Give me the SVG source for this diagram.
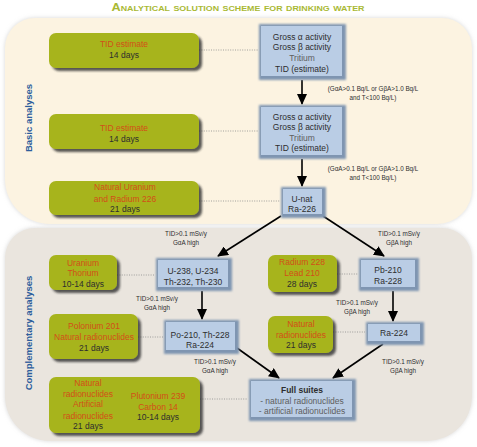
<svg xmlns="http://www.w3.org/2000/svg" width="477" height="447" viewBox="0 0 477 447">
<style>
text{font-family:"Liberation Sans",Arial,sans-serif;text-anchor:middle}
.t{font-size:8.5px;fill:#2e2e2e}
.o{font-size:8.5px;fill:#d24f18}
.lt{font-size:8.5px;fill:#5e5e5e}
.s{font-size:6.3px;fill:#2e2e2e}
.side{font-size:9.5px;font-weight:bold;fill:#2d5e9c}
.g{fill:#a7b41e}
.dot{stroke:#8a8a8a;stroke-width:0.8;stroke-dasharray:1 1.4;fill:none}
.arr{stroke:#000;stroke-width:1.6;fill:none;marker-end:url(#ah)}
</style>
<defs>
<marker id="ah" markerUnits="userSpaceOnUse" markerWidth="11" markerHeight="10" refX="10" refY="5" orient="auto"><path d="M0,0 L11,5 L0,10 z" fill="#000"/></marker>
<filter id="gs" x="-10%" y="-20%" width="130%" height="150%"><feDropShadow dx="3" dy="3" stdDeviation="1.3" flood-color="#333" flood-opacity="0.8"/></filter>
<filter id="bb" x="-15%" y="-20%" width="135%" height="150%"><feGaussianBlur stdDeviation="1.1" result="b"/><feOffset in="b" dx="1" dy="1"/></filter>
<filter id="ps" x="-5%" y="-5%" width="110%" height="110%"><feDropShadow dx="0" dy="0" stdDeviation="2" flood-color="#bbb" flood-opacity="0.6"/></filter>
</defs>
<rect width="477" height="447" fill="#fff"/>
<text x="238" y="10.5" textLength="253" lengthAdjust="spacingAndGlyphs" style="font-size:11.5px;font-weight:bold;font-variant:small-caps;fill:#a9b934">Analytical solution scheme for drinking water</text>
<path id="panel-basic" d="M35,18 H442 A30,30 0 0 1 472,48 V189 A35,35 0 0 1 437,224 H50 A45,45 0 0 1 5,179 V48 A30,30 0 0 1 35,18 Z" fill="#fcf3e1" filter="url(#ps)"/>
<path id="panel-comp" d="M35,228 H442 A30,30 0 0 1 472,258 V396 A45,45 0 0 1 427,441 H50 A45,45 0 0 1 5,396 V258 A30,30 0 0 1 35,228 Z" fill="#eae5de" filter="url(#ps)"/>
<text class="side" transform="translate(32,118) rotate(-90)">Basic analyses</text>
<text class="side" transform="translate(32,333) rotate(-90)">Complementary analyses</text>
<g id="connectors">
<line class="dot" x1="199" y1="50" x2="258" y2="50"/>
<line class="dot" x1="199" y1="131" x2="258" y2="131"/>
<line class="dot" x1="199" y1="201" x2="280" y2="201"/>
<line class="dot" x1="117" y1="275" x2="155" y2="275"/>
<line class="dot" x1="337" y1="274" x2="358" y2="274"/>
<line class="dot" x1="138" y1="337" x2="163" y2="337"/>
<line class="dot" x1="333" y1="332" x2="365" y2="332"/>
<line class="dot" x1="200" y1="399" x2="248" y2="399"/>
<line class="arr" x1="302" y1="80" x2="302" y2="104"/>
<line class="arr" x1="302" y1="159" x2="302" y2="186"/>
<line class="arr" x1="281" y1="216" x2="218" y2="256"/>
<line class="arr" x1="323" y1="216" x2="384" y2="256"/>
<line class="arr" x1="202" y1="291" x2="202" y2="319"/>
<line class="arr" x1="393" y1="291" x2="393" y2="321"/>
<line class="arr" x1="237" y1="348" x2="279" y2="378"/>
<line class="arr" x1="383" y1="344" x2="333" y2="378"/>
<text class="s" x="373" y="91">(GαA&gt;0.1 Bq/L or GβA&gt;1.0 Bq/L</text>
<text class="s" x="373" y="100">and T&lt;100 Bq/L)</text>
<text class="s" x="373" y="171">(GαA&gt;0.1 Bq/L or GβA&gt;1.0 Bq/L</text>
<text class="s" x="373" y="180">and T&lt;100 Bq/L)</text>
<text class="s" x="186" y="236">TID&gt;0.1 mSv/y</text><text class="s" x="186" y="245">GαA high</text>
<text class="s" x="399" y="236">TID&gt;0.1 mSv/y</text><text class="s" x="399" y="245">GβA high</text>
<text class="s" x="157" y="301">TID&gt;0.1 mSv/y</text><text class="s" x="157" y="310">GαA high</text>
<text class="s" x="357" y="305">TID&gt;0.1 mSv/y</text><text class="s" x="357" y="314">GβA high</text>
<text class="s" x="215" y="364">TID&gt;0.1 mSv/y</text><text class="s" x="215" y="373">GαA high</text>
<text class="s" x="403" y="364">TID&gt;0.1 mSv/y</text><text class="s" x="403" y="373">GβA high</text>
</g>
<g id="g1"><rect class="g" x="49" y="33" width="150" height="35" rx="7" filter="url(#gs)"/><text class="o" x="124" y="47">TID estimate</text><text class="t" x="124" y="58">14 days</text></g>
<g id="g2"><rect class="g" x="49" y="114" width="150" height="35" rx="7" filter="url(#gs)"/><text class="o" x="124" y="131">TID estimate</text><text class="t" x="124" y="142">14 days</text></g>
<g id="g3"><rect class="g" x="49" y="181" width="150" height="34" rx="7" filter="url(#gs)"/><text class="o" x="125" y="190">Natural Uranium</text><text class="o" x="125" y="202">and Radium 226</text><text class="t" x="125" y="212">21 days</text></g>
<g id="g4"><rect class="g" x="49" y="255" width="68" height="35" rx="7" filter="url(#gs)"/><text class="o" x="83" y="266">Uranium</text><text class="o" x="83" y="276">Thorium</text><text class="t" x="83" y="287">10-14 days</text></g>
<g id="g5"><rect class="g" x="268" y="255" width="69" height="37" rx="7" filter="url(#gs)"/><text class="o" x="302" y="265">Radium 228</text><text class="o" x="302" y="276">Lead 210</text><text class="t" x="302" y="287">28 days</text></g>
<g id="g6"><rect class="g" x="49" y="314" width="89" height="45" rx="7" filter="url(#gs)"/><text class="o" x="94" y="329">Polonium 201</text><text class="o" x="94" y="340">Natural radionuclides</text><text class="t" x="94" y="351">21 days</text></g>
<g id="g7"><rect class="g" x="268" y="316" width="65" height="37" rx="7" filter="url(#gs)"/><text class="o" x="301" y="327">Natural</text><text class="o" x="301" y="338">radionuclides</text><text class="t" x="301" y="348">21 days</text></g>
<g id="g8"><rect class="g" x="49" y="377" width="151" height="56" rx="7" filter="url(#gs)"/><text class="o" x="88" y="386">Natural</text><text class="o" x="88" y="397">radionuclides</text><text class="o" x="88" y="407">Artificial</text><text class="o" x="88" y="419">radionuclides</text><text class="t" x="88" y="429">21 days</text><text class="o" x="158" y="399">Plutonium 239</text><text class="o" x="158" y="410">Carbon 14</text><text class="t" x="158" y="420">10-14 days</text></g>
<g id="b1"><rect x="258" y="23" width="87" height="56" fill="#7f95b1" filter="url(#bb)"/><rect x="261" y="26" width="81" height="50" fill="#bacde5"/><text class="t" x="302" y="40">Gross α activity</text><text class="t" x="302" y="50">Gross β activity</text><text class="lt" x="302" y="61">Tritium</text><text class="t" x="302" y="72">TID (estimate)</text></g>
<g id="b2"><rect x="258" y="104" width="87" height="54" fill="#7f95b1" filter="url(#bb)"/><rect x="261" y="107" width="81" height="48" fill="#bacde5"/><text class="t" x="302" y="120">Gross α activity</text><text class="t" x="302" y="130">Gross β activity</text><text class="lt" x="302" y="141">Tritium</text><text class="t" x="302" y="151">TID (estimate)</text></g>
<g id="b3"><rect x="280" y="186" width="45" height="31" fill="#7f95b1" filter="url(#bb)"/><rect x="283" y="189" width="39" height="25" fill="#bacde5"/><text class="t" x="302" y="202">U-nat</text><text class="t" x="302" y="212">Ra-226</text></g>
<g id="b4"><rect x="155" y="257" width="76" height="33" fill="#7f95b1" filter="url(#bb)"/><rect x="158" y="260" width="70" height="27" fill="#bacde5"/><text class="t" x="193" y="274">U-238, U-234</text><text class="t" x="193" y="285">Th-232, Th-230</text></g>
<g id="b5"><rect x="358" y="257" width="60" height="33" fill="#7f95b1" filter="url(#bb)"/><rect x="361" y="260" width="54" height="27" fill="#bacde5"/><text class="t" x="388" y="273">Pb-210</text><text class="t" x="388" y="284">Ra-228</text></g>
<g id="b6"><rect x="163" y="319" width="75" height="34" fill="#7f95b1" filter="url(#bb)"/><rect x="166" y="322" width="69" height="28" fill="#bacde5"/><text class="t" x="200" y="338">Po-210, Th-228</text><text class="t" x="200" y="348">Ra-224</text></g>
<g id="b7"><rect x="365" y="321" width="58" height="23" fill="#7f95b1" filter="url(#bb)"/><rect x="368" y="324" width="52" height="17" fill="#bacde5"/><text class="t" x="394" y="336">Ra-224</text></g>
<g id="b8"><rect x="248" y="378" width="107" height="42" fill="#7f95b1" filter="url(#bb)"/><rect x="251" y="381" width="101" height="36" fill="#bacde5"/><text class="t" x="302" y="393" style="font-weight:bold">Full suites</text><text class="lt" x="302" y="404">- natural radionuclides</text><text class="lt" x="302" y="414">- artificial radionuclides</text></g>
</svg>
